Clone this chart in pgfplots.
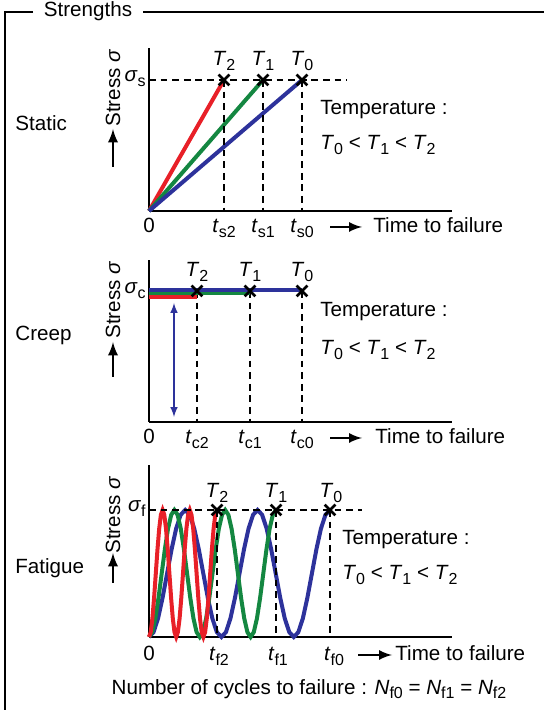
\documentclass[border=0pt]{standalone}
\usepackage{pgfplots}
\pgfplotsset{compat=1.18}
\usepackage{pgfplotstable}
\usepackage{fontspec}
\setmainfont{Liberation Sans}
\definecolor{cred}{RGB}{232,32,40}
\definecolor{cgreen}{RGB}{20,135,65}
\definecolor{cblue}{RGB}{45,50,155}
\newcommand\sub[1]{\raisebox{-0.45ex}{\fontsize{8}{9}\selectfont #1}}
\newcommand\Tn[1]{\textit{T}\sub{#1}}
\newcommand\tn[1]{\textit{t}\sub{#1}}
\newcommand\Nn[1]{\textit{N}\sub{#1}}
\pgfplotstableread{
xr xg xb y
0 0 0 0
1.7 3.175 4.525 4.83
3.4 6.35 9.05 18.60
5.1 9.525 13.575 39.20
6.8 12.7 18.1 63.5
8.5 15.875 22.625 87.80
10.2 19.05 27.15 108.40
11.9 22.225 31.675 122.17
13.6 25.4 36.2 127
15.3 28.575 40.725 122.17
17 31.75 45.25 108.40
18.7 34.925 49.775 87.80
20.4 38.1 54.3 63.5
22.1 41.275 58.825 39.20
23.8 44.45 63.35 18.60
25.5 47.625 67.875 4.83
27.2 50.8 72.4 0
28.9 53.975 76.925 4.83
30.6 57.15 81.45 18.60
32.3 60.325 85.975 39.20
34 63.5 90.5 63.5
35.7 66.675 95.025 87.80
37.4 69.85 99.55 108.40
39.1 73.025 104.075 122.17
40.8 76.2 108.6 127
42.5 79.375 113.125 122.17
44.2 82.55 117.65 108.40
45.9 85.725 122.175 87.80
47.6 88.9 126.7 63.5
49.3 92.075 131.225 39.20
51 95.25 135.75 18.60
52.7 98.425 140.275 4.83
54.4 101.6 144.8 0
56.1 104.775 149.325 4.83
57.8 107.95 153.85 18.60
59.5 111.125 158.375 39.20
61.2 114.3 162.9 63.5
62.9 117.475 167.425 87.80
64.6 120.65 171.95 108.40
66.3 123.825 176.475 122.17
68 127 181 127
}\fatigue
\pgfplotsset{
  panel/.style={anchor=south west, x=0.5pt, y=0.5pt, xmin=0, xmax=303, ymin=0,
    enlargelimits=false, axis lines=left, axis line style={-, line width=1.2pt, black},
    xtick=\empty, ytick=\empty, clip=false},
  dsh/.style={black, line width=1.1pt, dash pattern=on 3.4pt off 2.4pt, forget plot},
  xm/.style={only marks, mark=x, mark size=3.8pt, mark options={line width=1.3pt, solid, black}, forget plot},
  cur/.style={line width=2pt, forget plot},
}
\tikzset{txt/.style={font=\fontsize{10.3}{12}\selectfont, inner sep=0pt}}
\begin{document}
\begin{tikzpicture}
\path[use as bounding box] (0,0) rectangle (272pt,355pt);
% frame
\draw[line width=1.2pt] (16.5pt,349pt) -- (2.5pt,349pt) -- (2.5pt,0pt);
\draw[line width=1.2pt] (71.5pt,349pt) -- (272pt,349pt);
\node[txt] at (44pt,349.5pt) {Strengths};

% ---------- Static ----------
\begin{axis}[panel, at={(74.5pt,249.5pt)}, ymax=163]
\addplot[cur, cred] coordinates {(0,0) (75,131)};
\addplot[cur, cgreen] coordinates {(0,0) (114,131)};
\addplot[cur, cblue] coordinates {(0,0) (153,131)};
\addplot[dsh] coordinates {(0,131) (198,131)};
\addplot[dsh] coordinates {(75,131) (75,0)};
\addplot[dsh] coordinates {(114,131) (114,0)};
\addplot[dsh] coordinates {(153,131) (153,0)};
\addplot[xm] coordinates {(75,131) (114,131) (153,131)};
\node[txt] at (axis cs:75,150) {\Tn2};
\node[txt] at (axis cs:114,150) {\Tn1};
\node[txt] at (axis cs:153,150) {\Tn0};
\node[txt, anchor=east] at (axis cs:-3,132) {\textit{σ}\sub{s}};
\node[txt, anchor=base] at (axis cs:0,-22) {0};
\node[txt, anchor=base] at (axis cs:75,-22) {\tn{s2}};
\node[txt, anchor=base] at (axis cs:114,-22) {\tn{s1}};
\node[txt, anchor=base] at (axis cs:153,-22) {\tn{s0}};
\draw[-latex, line width=1.2pt] (axis cs:181,-16) -- (axis cs:213,-16);
\node[txt, anchor=base west] at (axis cs:224,-22) {Time to failure};
\node[txt, anchor=west] at (axis cs:171,101) {Temperature :};
\node[txt, anchor=west] at (axis cs:171,66) {\Tn0 < \Tn1 < \Tn2};
\node[txt, rotate=90] at (axis cs:-36,123) {Stress \textit{σ}};
\draw[-latex, line width=1.3pt] (axis cs:-36,44) -- (axis cs:-36,82);
\node[txt, anchor=west] at (axis cs:-134,88) {Static};
\end{axis}

% ---------- Creep ----------
\begin{axis}[panel, at={(74.5pt,144pt)}, ymax=162]
\addplot[dsh] coordinates {(48,131) (48,0)};
\addplot[dsh] coordinates {(101,131) (101,0)};
\addplot[dsh] coordinates {(153,131) (153,0)};
\addplot[cur, cred] coordinates {(0,125) (48,125)};
\addplot[cur, cgreen] coordinates {(0,128.5) (101,128.5)};
\addplot[cur, cblue] coordinates {(0,132) (153,132)};
\addplot[xm] coordinates {(48,131) (101,131) (153,131)};
\draw[latex-latex, cblue, line width=0.7pt] (axis cs:25,5) -- (axis cs:25,119);
\node[txt] at (axis cs:48,150) {\Tn2};
\node[txt] at (axis cs:101,150) {\Tn1};
\node[txt] at (axis cs:153,150) {\Tn0};
\node[txt, anchor=east] at (axis cs:-3,131) {\textit{σ}\sub{c}};
\node[txt, anchor=base] at (axis cs:0,-22) {0};
\node[txt, anchor=base] at (axis cs:48,-22) {\tn{c2}};
\node[txt, anchor=base] at (axis cs:101,-22) {\tn{c1}};
\node[txt, anchor=base] at (axis cs:153,-22) {\tn{c0}};
\draw[-latex, line width=1.2pt] (axis cs:181,-16) -- (axis cs:213,-16);
\node[txt, anchor=base west] at (axis cs:226,-22) {Time to failure};
\node[txt, anchor=west] at (axis cs:171,110) {Temperature :};
\node[txt, anchor=west] at (axis cs:171,72) {\Tn0 < \Tn1 < \Tn2};
\node[txt, rotate=90] at (axis cs:-36,122) {Stress \textit{σ}};
\draw[-latex, line width=1.3pt] (axis cs:-36,45) -- (axis cs:-36,80);
\node[txt, anchor=west] at (axis cs:-134,87) {Creep};
\end{axis}

% ---------- Fatigue ----------
\begin{axis}[panel, at={(74.5pt,36.5pt)}, ymax=172]
\addplot[cur, cblue] table[x=xb, y=y] {\fatigue};
\addplot[cur, cgreen] table[x=xg, y=y] {\fatigue};
\addplot[cur, cred] table[x=xr, y=y] {\fatigue};
\addplot[dsh] coordinates {(0,127) (213,127)};
\addplot[dsh] coordinates {(68,127) (68,0)};
\addplot[dsh] coordinates {(127,127) (127,0)};
\addplot[dsh] coordinates {(181,127) (181,0)};
\addplot[xm] coordinates {(68,127) (127,127) (181,127)};
\node[txt] at (axis cs:68,144) {\Tn2};
\node[txt] at (axis cs:127,144) {\Tn1};
\node[txt] at (axis cs:182,144) {\Tn0};
\node[txt, anchor=east] at (axis cs:-3,128) {\textit{σ}\sub{f}};
\node[txt, anchor=base] at (axis cs:0,-24) {0};
\node[txt, anchor=base] at (axis cs:70,-24) {\tn{f2}};
\node[txt, anchor=base] at (axis cs:129,-24) {\tn{f1}};
\node[txt, anchor=base] at (axis cs:185,-24) {\tn{f0}};
\draw[-latex, line width=1.2pt] (axis cs:209,-18) -- (axis cs:243,-18);
\node[txt, anchor=base west] at (axis cs:246,-24) {Time to failure};
\node[txt, anchor=west] at (axis cs:193,97) {Temperature :};
\node[txt, anchor=west] at (axis cs:193,62) {\Tn0 < \Tn1 < \Tn2};
\node[txt, rotate=90] at (axis cs:-36,122) {Stress \textit{σ}};
\draw[-latex, line width=1.3pt] (axis cs:-36,54) -- (axis cs:-36,84);
\node[txt, anchor=west] at (axis cs:-134,69) {Fatigue};
\node[txt, anchor=base] at (axis cs:160,-57) {Number of cycles to failure : \Nn{f0} = \Nn{f1} = \Nn{f2}};
\end{axis}
\end{tikzpicture}
\end{document}
